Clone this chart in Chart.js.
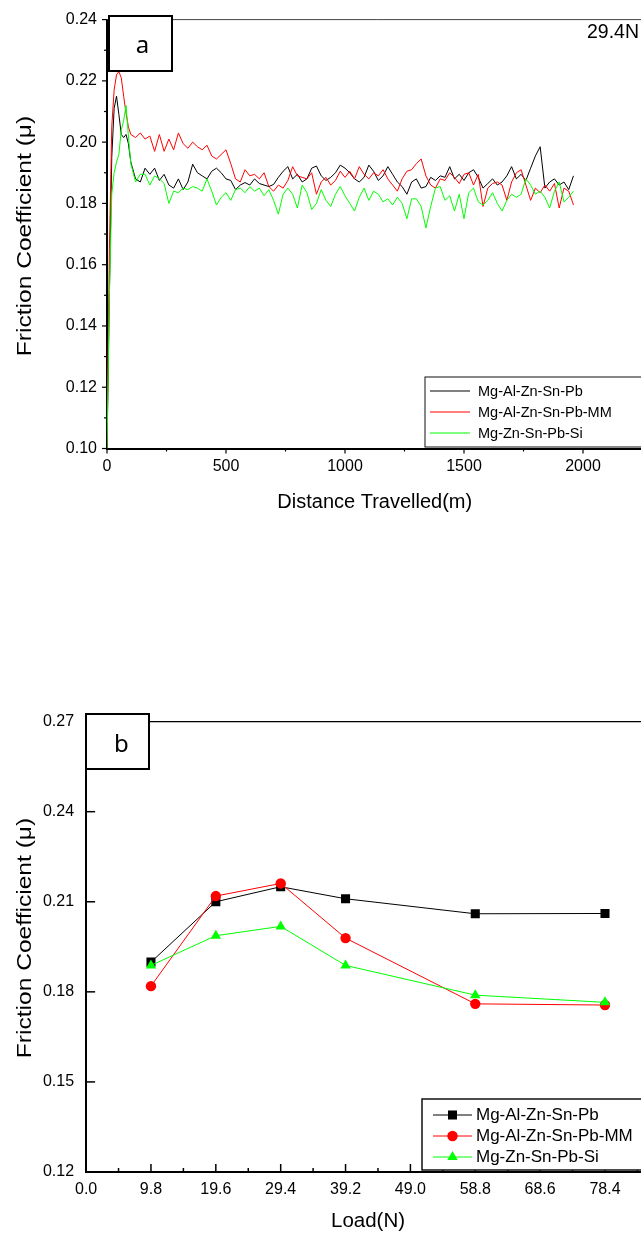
<!DOCTYPE html>
<html><head><meta charset="utf-8">
<script src="https://cdn.jsdelivr.net/npm/chart.js@4.4.1/dist/chart.umd.min.js"></script>
<style>
html,body{margin:0;padding:0;background:#fff;overflow:hidden;width:641px;height:1236px;}
#wa{position:absolute;left:0;top:0;width:700px;height:540px;}
#wb{position:absolute;left:0;top:700px;width:700px;height:536px;}
</style></head><body>
<div id="wa"><canvas id="ca" width="700" height="540"></canvas></div>
<div id="wb"><canvas id="cb" width="700" height="536"></canvas></div>
<script>
// ---------- Panel a : friction coefficient vs distance (29.4 N) ----------
const distance = [0,10,20,30,40,50,60,70,80,90,100,120,140,160,180,200,220,240,260,280,300,320,340,360,380,400,420,440,460,480,500,520,540,560,580,600,620,640,660,680,700,720,740,760,780,800,820,840,860,880,900,920,940,960,980,1000,1020,1040,1060,1080,1100,1120,1140,1160,1180,1200,1220,1240,1260,1280,1300,1320,1340,1360,1380,1400,1420,1440,1460,1480,1500,1520,1540,1560,1580,1600,1620,1640,1660,1680,1700,1720,1740,1760,1780,1800,1820,1840,1860,1880,1900,1920,1940,1960];
const frictionAlZnSnPb = [0.100,0.150,0.195,0.211,0.215,0.209,0.2025,0.2015,0.2025,0.1995,0.1935,0.188,0.187,0.1915,0.1895,0.1915,0.1875,0.1895,0.186,0.185,0.188,0.1845,0.187,0.1928,0.190,0.189,0.188,0.1905,0.1915,0.190,0.188,0.1875,0.1845,0.186,0.1868,0.186,0.188,0.1865,0.186,0.1855,0.1862,0.1885,0.1905,0.192,0.188,0.1895,0.187,0.188,0.1915,0.1922,0.189,0.1875,0.1885,0.190,0.1925,0.1915,0.190,0.188,0.187,0.1885,0.1925,0.1905,0.1875,0.189,0.192,0.1895,0.187,0.1855,0.183,0.187,0.188,0.185,0.1855,0.1885,0.1875,0.189,0.1885,0.192,0.188,0.1895,0.1875,0.190,0.191,0.1885,0.185,0.1865,0.188,0.186,0.187,0.189,0.192,0.188,0.1895,0.1875,0.1915,0.1955,0.1985,0.185,0.187,0.188,0.186,0.187,0.1845,0.189];
const frictionAlZnSnPbMM = [0.100,0.165,0.205,0.217,0.222,0.223,0.221,0.215,0.2095,0.205,0.2025,0.2015,0.203,0.201,0.202,0.197,0.2025,0.197,0.201,0.1975,0.203,0.1995,0.198,0.200,0.1985,0.1975,0.199,0.1955,0.1945,0.196,0.1975,0.193,0.188,0.187,0.191,0.189,0.1895,0.188,0.190,0.1855,0.184,0.186,0.185,0.1875,0.192,0.189,0.1885,0.188,0.190,0.183,0.187,0.1885,0.186,0.1875,0.1905,0.1885,0.1905,0.188,0.192,0.1895,0.188,0.190,0.189,0.191,0.188,0.186,0.184,0.188,0.1905,0.191,0.193,0.1945,0.189,0.186,0.185,0.188,0.1875,0.190,0.1885,0.1865,0.1895,0.190,0.186,0.1895,0.179,0.185,0.1865,0.187,0.186,0.181,0.187,0.190,0.191,0.186,0.181,0.185,0.1835,0.186,0.184,0.1865,0.1785,0.185,0.184,0.1795];
const frictionZnSnPbSi = [0.100,0.150,0.183,0.190,0.1935,0.196,0.204,0.207,0.212,0.202,0.193,0.187,0.1895,0.1895,0.186,0.189,0.188,0.1865,0.180,0.184,0.1835,0.185,0.1845,0.1855,0.185,0.184,0.188,0.184,0.1795,0.182,0.1835,0.181,0.1845,0.185,0.1835,0.1855,0.184,0.185,0.1825,0.1845,0.181,0.1765,0.183,0.185,0.183,0.1785,0.186,0.1835,0.178,0.180,0.1845,0.181,0.179,0.183,0.1855,0.1825,0.180,0.1775,0.182,0.185,0.181,0.184,0.183,0.1805,0.1815,0.1795,0.182,0.180,0.175,0.1815,0.1815,0.179,0.172,0.179,0.185,0.1855,0.181,0.1825,0.1775,0.183,0.175,0.1835,0.185,0.1805,0.1795,0.181,0.1835,0.180,0.1775,0.181,0.183,0.182,0.183,0.188,0.186,0.183,0.184,0.182,0.1785,0.184,0.187,0.1805,0.182,0.184];
const distanceTicks = [0, 500, 1000, 1500, 2000];

// ---------- Panel b : friction coefficient vs load ----------
const loads = [9.8, 19.6, 29.4, 39.2, 58.8, 78.4];
const loadAlZnSnPb   = [0.1899, 0.2100, 0.2150, 0.2110, 0.2060, 0.2061];
const loadAlZnSnPbMM = [0.1819, 0.2119, 0.2161, 0.1979, 0.1760, 0.1756];
const loadZnSnPbSi   = [0.1888, 0.1987, 0.2018, 0.1888, 0.1789, 0.1765];
const loadTicks = [0, 9.8, 19.6, 29.4, 39.2, 49.0, 58.8, 68.6, 78.4];

const seriesNames  = ['Mg-Al-Zn-Sn-Pb', 'Mg-Al-Zn-Sn-Pb-MM', 'Mg-Zn-Sn-Pb-Si'];
const seriesColors = ['#000000', '#ff0000', '#00ff00'];
const pointStyles  = ['rect', 'circle', 'triangle'];
const pointSizes   = [6.4, 5.2, 6.0];
const yTitle = 'Friction Coefficient (\u03bc)';

const FF = "'Liberation Sans', Arial, sans-serif";

const deco = {
  id: 'deco',
  afterDraw(chart, args, o) {
    const ctx = chart.ctx, a = chart.chartArea, xs = chart.scales.x, ys = chart.scales.y;
    ctx.save();
    ctx.strokeStyle = o.topColor; ctx.lineWidth = o.topWidth;
    ctx.beginPath(); ctx.moveTo(a.left, a.top); ctx.lineTo(a.right + 5, a.top); ctx.stroke();
    ctx.strokeStyle = '#000'; ctx.lineWidth = o.tickWidth;
    function marks(scale, t, horiz) {
      const n = Math.floor((scale.max - scale.min) / t.step * t.div + 1e-6);
      for (let k = 0; k <= n; k++) {
        const v = scale.min + k * t.step / t.div;
        const major = k % t.div === 0;
        const len = major ? t.major : t.minor;
        if (!len) continue;
        const p = scale.getPixelForValue(v);
        ctx.beginPath();
        if (horiz) { ctx.moveTo(p, a.bottom); ctx.lineTo(p, a.bottom + t.dir * len); }
        else { ctx.moveTo(a.left, p); ctx.lineTo(a.left - t.dir * len, p); }
        ctx.stroke();
      }
    }
    marks(xs, o.xTicks, true);
    marks(ys, o.yTicks, false);
    // vertical axis title (slightly elongated, like the original)
    const T = o.yTitle;
    ctx.save();
    ctx.translate(T.x, T.y); ctx.rotate(-Math.PI / 2); ctx.scale(T.stretch, 1);
    ctx.fillStyle = '#000'; ctx.font = T.font; ctx.textAlign = 'center'; ctx.textBaseline = 'middle';
    ctx.fillText(T.text, 0, 0);
    ctx.restore();
    // panel label box
    const b = o.box;
    ctx.fillStyle = '#fff'; ctx.fillRect(b.x, b.y, b.w, b.h);
    ctx.strokeStyle = '#000'; ctx.lineWidth = 2; ctx.strokeRect(b.x, b.y, b.w, b.h);
    ctx.fillStyle = '#000'; ctx.font = b.font; ctx.textAlign = 'center'; ctx.textBaseline = 'alphabetic';
    ctx.fillText(b.text, b.tx, b.ty);
    if (o.note) {
      ctx.font = o.note.font; ctx.textAlign = 'left'; ctx.textBaseline = 'alphabetic';
      ctx.fillText(o.note.text, o.note.x, o.note.y);
    }
    // legend
    const L = o.legend;
    ctx.fillStyle = '#fff'; ctx.fillRect(L.x, L.y, L.w, L.h);
    ctx.strokeStyle = '#111'; ctx.lineWidth = L.lw; ctx.strokeRect(L.x, L.y, L.w, L.h);
    chart.data.datasets.forEach((ds, i) => {
      const y = L.rows[i];
      ctx.strokeStyle = ds.borderColor; ctx.lineWidth = 1;
      ctx.beginPath(); ctx.moveTo(L.x0, y); ctx.lineTo(L.x1, y); ctx.stroke();
      if (L.markers) {
        ctx.fillStyle = ds.pointBackgroundColor;
        Chart.helpers.drawPoint(ctx, {pointStyle: ds.pointStyle, radius: ds.pointRadius, rotation: 0, borderWidth: 0}, (L.x0 + L.x1) / 2, y);
      }
      ctx.fillStyle = '#000'; ctx.font = L.font; ctx.textAlign = 'left'; ctx.textBaseline = 'middle';
      ctx.fillText(ds.label, L.tx, y + 0.5);
    });
    ctx.restore();
  }
};

const seriesA = [frictionAlZnSnPb, frictionAlZnSnPbMM, frictionZnSnPbSi];
new Chart(document.getElementById('ca'), {
  type: 'line',
  data: {
    datasets: seriesA.map((vals, i) => ({
      label: seriesNames[i],
      data: distance.map((d, k) => ({x: d, y: vals[k]})),
      borderColor: seriesColors[i], borderWidth: 1, pointRadius: 0,
      tension: 0, fill: false, order: 3 - i
    }))
  },
  options: {
    responsive: false, animation: false, events: [],
    layout: {padding: {top: 15.5, left: 0, right: 57.5, bottom: 0}},
    plugins: {
      legend: {display: false}, tooltip: {enabled: false},
      deco: {
        topColor: '#444', topWidth: 1, tickWidth: 1.2,
        xTicks: {step: 500, div: 2, major: 5, minor: 3, dir: 1},
        yTicks: {step: 0.02, div: 2, major: 5, minor: 3, dir: 1},
        yTitle: {text: yTitle, x: 25, y: 236, stretch: 1.17, font: '21px ' + FF},
        box: {x: 109, y: 16, w: 63, h: 55, text: 'a', tx: 142.5, ty: 52.5, font: "24px 'Noto Sans', sans-serif"},
        note: {text: '29.4N', x: 587, y: 37.5, font: '19.5px ' + FF},
        legend: {x: 425, y: 377, w: 300, h: 70, lw: 1, rows: [391, 412, 433], x0: 430, x1: 470, tx: 478, font: '14.5px ' + FF, markers: false}
      }
    },
    scales: {
      x: {
        type: 'linear', min: 0, max: 2250,
        afterFit(s) { s.height = 91.5; },
        afterBuildTicks(s) { s.ticks = distanceTicks.map(v => ({value: v})); },
        ticks: {autoSkip: false, maxRotation: 0, padding: 8.6,
                font: {family: FF, size: 16}, color: '#000', callback: v => String(v)},
        grid: {display: false, drawTicks: false},
        border: {display: true, color: '#000', width: 2},
        title: {display: true, text: 'Distance Travelled(m)', color: '#000',
                font: {family: FF, size: 20}, padding: {top: 0, bottom: 26}}
      },
      y: {
        min: 0.10, max: 0.24,
        afterFit(s) { s.width = 107; },
        ticks: {stepSize: 0.02, autoSkip: false, padding: 10,
                font: {family: FF, size: 16}, color: '#000', callback: v => v.toFixed(2)},
        grid: {display: false, drawTicks: false},
        border: {display: true, color: '#000', width: 2},
        title: {display: false}
      }
    }
  },
  plugins: [deco]
});

const seriesB = [loadAlZnSnPb, loadAlZnSnPbMM, loadZnSnPbSi];
new Chart(document.getElementById('cb'), {
  type: 'line',
  data: {
    datasets: seriesB.map((vals, i) => ({
      label: seriesNames[i],
      data: loads.map((l, k) => ({x: l, y: vals[k]})),
      borderColor: seriesColors[i], borderWidth: 1,
      pointStyle: pointStyles[i], pointRadius: pointSizes[i],
      pointBackgroundColor: seriesColors[i], pointBorderWidth: 0,
      tension: 0, fill: false, order: 3 - i
    }))
  },
  options: {
    responsive: false, animation: false, events: [],
    layout: {padding: {top: 15, left: 0, right: 50, bottom: 0}},
    plugins: {
      legend: {display: false}, tooltip: {enabled: false},
      deco: {
        topColor: '#000', topWidth: 1.2, tickWidth: 1.5,
        xTicks: {step: 9.8, div: 2, major: 8, minor: 4, dir: -1},
        yTicks: {step: 0.03, div: 1, major: 9, minor: 0, dir: -1},
        yTitle: {text: yTitle, x: 25, y: 238, stretch: 1.17, font: '21px ' + FF},
        box: {x: 86, y: 14, w: 63, h: 55, text: 'b', tx: 121.5, ty: 52, font: "24px 'Noto Sans', sans-serif"},
        note: null,
        legend: {x: 422, y: 399, w: 300, h: 71, lw: 1.5, rows: [415, 436, 457], x0: 433, x1: 472, tx: 476, font: '17px ' + FF, markers: true}
      }
    },
    scales: {
      x: {
        type: 'linear', min: 0, max: 85.2,
        afterFit(s) { s.height = 64; },
        afterBuildTicks(s) { s.ticks = loadTicks.map(v => ({value: v})); },
        ticks: {autoSkip: false, maxRotation: 0, padding: 8.4,
                font: {family: FF, size: 16}, color: '#000', callback: v => v.toFixed(1)},
        grid: {display: false, drawTicks: false},
        border: {display: true, color: '#000', width: 2},
        title: {display: true, text: 'Load(N)', color: '#000',
                font: {family: FF, size: 20.5}, padding: {top: 0, bottom: 2}}
      },
      y: {
        min: 0.12, max: 0.27,
        afterFit(s) { s.width = 86.1; },
        ticks: {stepSize: 0.03, autoSkip: false, padding: 12,
                font: {family: FF, size: 16}, color: '#000', callback: v => v.toFixed(2)},
        grid: {display: false, drawTicks: false},
        border: {display: true, color: '#000', width: 2},
        title: {display: false}
      }
    }
  },
  plugins: [deco]
});
</script>
</body></html>
